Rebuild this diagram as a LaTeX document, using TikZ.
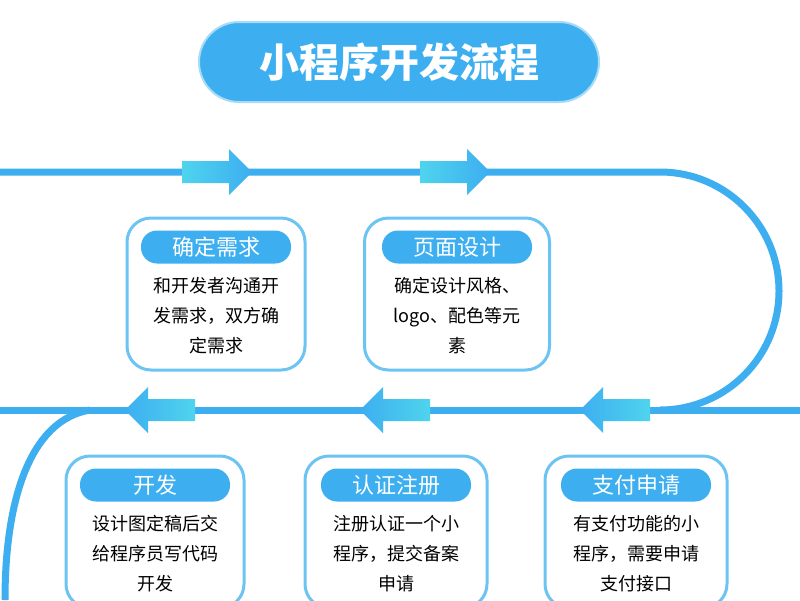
\documentclass[tikz,border=0pt]{standalone}
\usepackage{fontspec}
\setmainfont{Noto Sans CJK SC}
\definecolor{mainblue}{HTML}{3DAEF0}
\definecolor{lightblue}{HTML}{6CC4F2}
\definecolor{cyanl}{HTML}{4FD4EE}
\begin{document}
\begin{tikzpicture}[x=1pt,y=-1pt,
  line/.style={draw=mainblue,line width=7pt},
  box/.style={draw=lightblue,line width=3pt,rounded corners=24pt,fill=white,minimum width=178pt,minimum height=152pt},
  tag/.style={fill=mainblue,rounded corners=16pt,minimum width=150pt,minimum height=33pt,text=white,font=\fontsize{22}{22}\selectfont,inner sep=0pt},
  body/.style={align=center,font=\fontsize{18}{30}\selectfont,text=black}]
\newcommand\rarr[2]{%
  \shade[left color=cyanl,right color=mainblue] (#1-35,#2-11) -- (#1+12,#2-11) -- (#1+12,#2-23) -- (#1+35,#2) -- (#1+12,#2+23) -- (#1+12,#2+11) -- (#1-35,#2+11) -- cycle;}
\newcommand\larr[2]{%
  \shade[right color=cyanl,left color=mainblue] (#1+35,#2-11) -- (#1-12,#2-11) -- (#1-12,#2-23) -- (#1-35,#2) -- (#1-12,#2+23) -- (#1-12,#2+11) -- (#1+35,#2+11) -- cycle;}
\useasboundingbox (0,0) rectangle (800,600);
\fill[white] (0,0) rectangle (800,600);
% title
\node[fill=mainblue,draw=lightblue!60,line width=2pt,rounded corners=40pt,minimum width=400pt,minimum height=80pt,text=white,font=\bfseries\fontsize{40}{40}\selectfont] (title) at (399,62) {小程序开发流程};
% path
\coordinate (a0) at (0,172);
\coordinate (a1) at (660,172);
\coordinate (b0) at (800,410);
\coordinate (c0) at (0,410);
\coordinate (c1) at (90,410);
\coordinate (d1) at (5,600);
\draw[line] (a0) -- (a1) arc[start angle=90,end angle=-90,radius=119pt];
\draw[line] (b0) -- (c0);
\draw[line] (c1) .. controls (30,420) and (5,500) .. (d1);
% arrows
\rarr{217}{172}
\rarr{455}{172}
\larr{160}{410}
\larr{395}{410}
\larr{615}{410}
% boxes top
\node[box] (b1n) at (216,294) {};
\node[tag] (t1) at (216,247) {确定需求};
\node[body] (x1) at (216,316) {和开发者沟通开\\发需求，双方确\\定需求};
\node[box,minimum width=185pt] (b2n) at (457,294) {};
\node[tag] (t2) at (457,247) {页面设计};
\node[body] (x2) at (457,316) {确定设计风格、\\logo、配色等元\\素};
% boxes bottom
\node[box] (b3n) at (155,532) {};
\node[tag] (t3) at (155,485) {开发};
\node[body] (x3) at (155,554) {设计图定稿后交\\给程序员写代码\\开发};
\node[box,minimum width=182pt] (b4n) at (396,532) {};
\node[tag] (t4) at (396,485) {认证注册};
\node[body] (x4) at (396,554) {注册认证一个小\\程序，提交备案\\申请};
\node[box,minimum width=182pt] (b5n) at (636,532) {};
\node[tag] (t5) at (636,485) {支付申请};
\node[body] (x5) at (636,554) {有支付功能的小\\程序，需要申请\\支付接口};
\end{tikzpicture}
\end{document}
